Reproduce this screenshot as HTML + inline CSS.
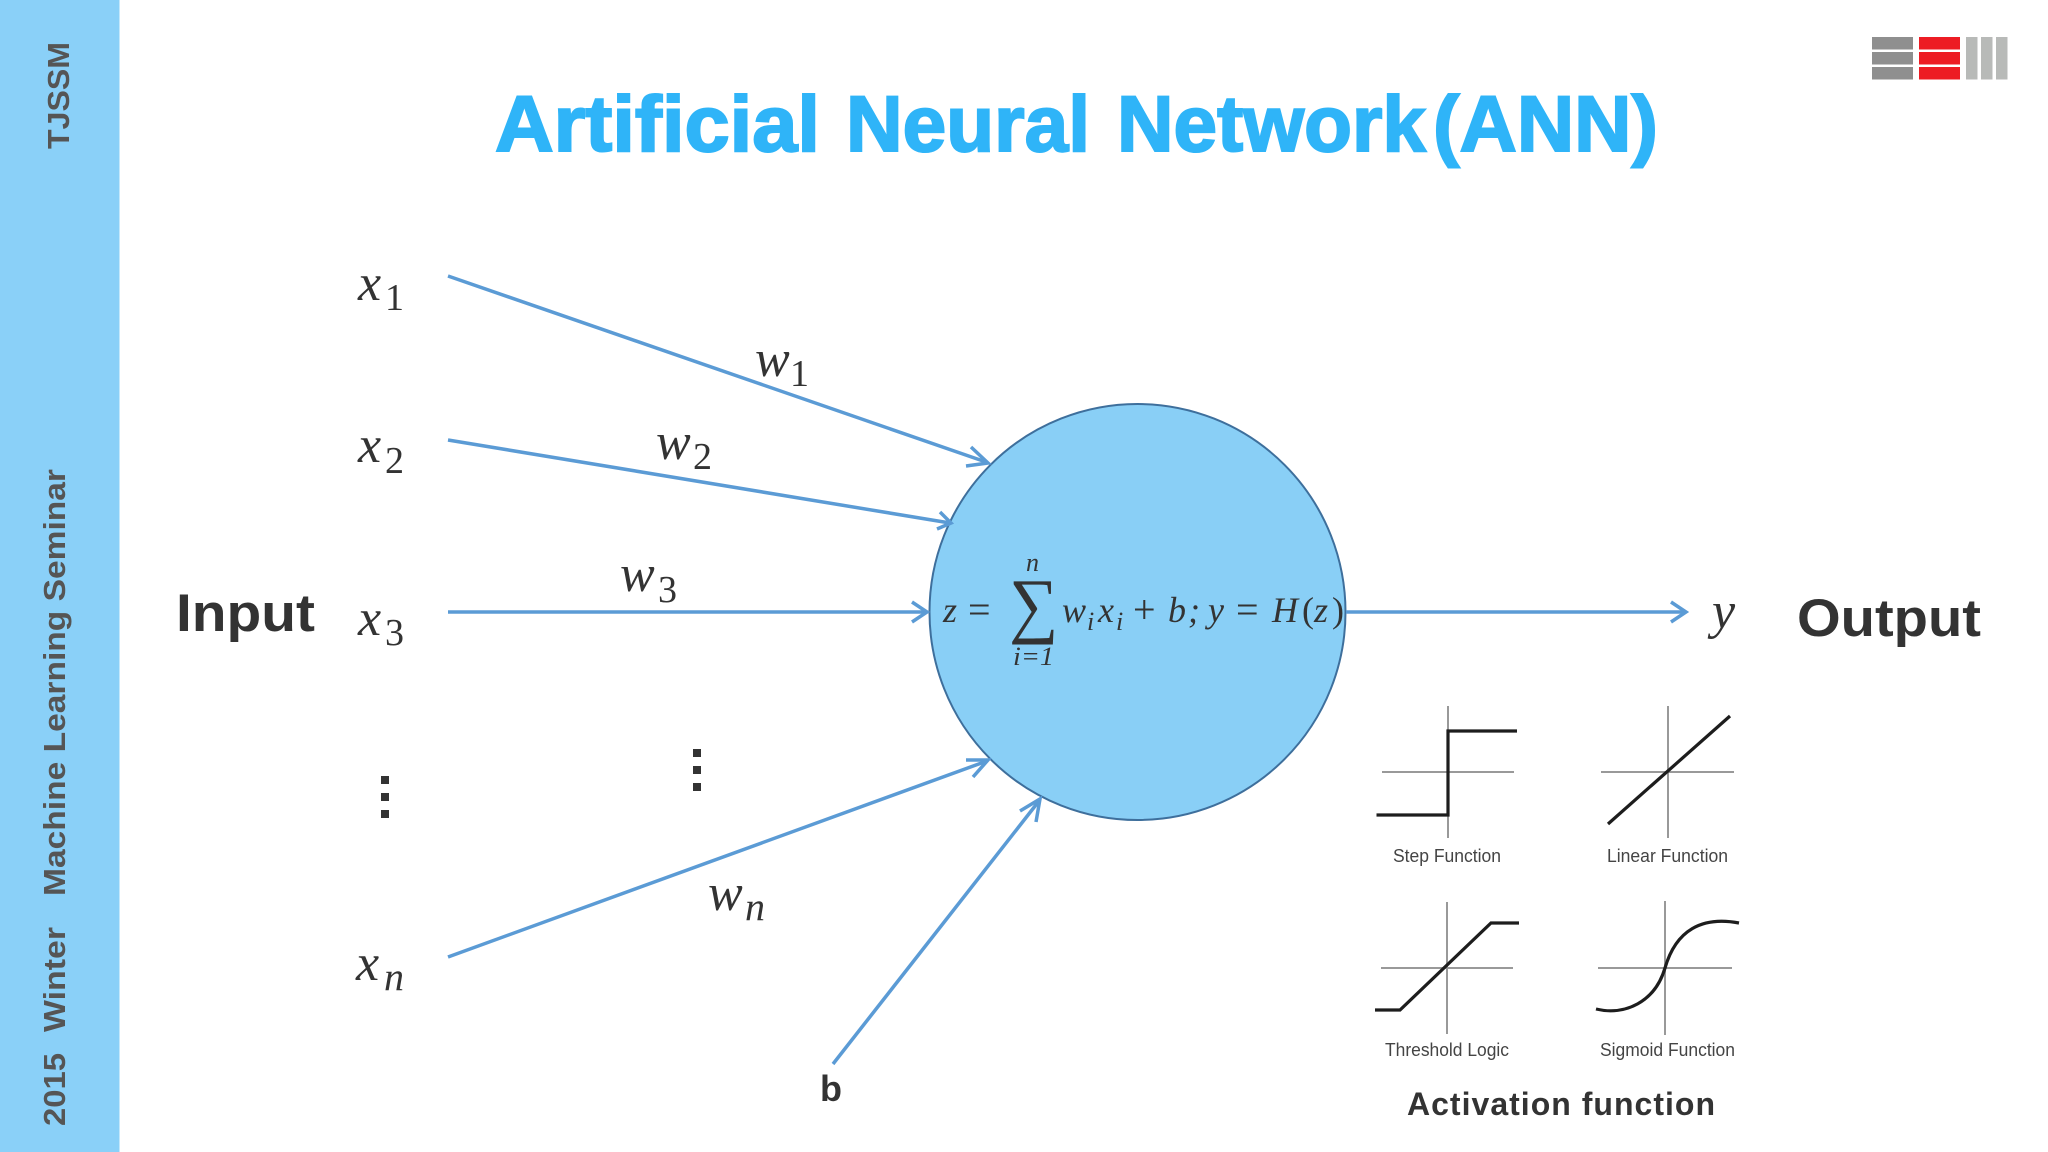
<!DOCTYPE html>
<html><head><meta charset="utf-8"><style>
html,body{margin:0;padding:0;background:#fff;width:2048px;height:1152px;overflow:hidden}
svg{display:block}
.s{font-family:"Liberation Sans",sans-serif}
.m{font-family:"Liberation Serif",serif;font-style:italic;fill:#333}
.r{font-family:"Liberation Serif",serif;fill:#333}
.b{font-family:"Liberation Sans",sans-serif;font-weight:bold;fill:#333}
.side{font-family:"Liberation Sans",sans-serif;font-weight:bold;fill:#555;font-size:31px}
.lab{font-family:"Liberation Sans",sans-serif;fill:#444;font-size:18.5px}
</style></head><body>
<svg width="2048" height="1152" viewBox="0 0 2048 1152" xmlns="http://www.w3.org/2000/svg">
<rect width="2048" height="1152" fill="#fff"/>
<rect width="119.5" height="1152" fill="#8ad0f8"/>
<text class="side" transform="translate(69,149) rotate(-90)" textLength="107" lengthAdjust="spacingAndGlyphs">TJSSM</text>
<text class="side" transform="translate(65,1126) rotate(-90)" textLength="73" lengthAdjust="spacingAndGlyphs">2015</text>
<text class="side" transform="translate(65,1032) rotate(-90)" textLength="105" lengthAdjust="spacingAndGlyphs">Winter</text>
<text class="side" transform="translate(65,896) rotate(-90)" textLength="427" lengthAdjust="spacingAndGlyphs">Machine Learning Seminar</text>

<g class="s" font-size="79" font-weight="bold" fill="#2fb4f8" stroke="#2fb4f8" stroke-width="2">
<text x="495" y="151" textLength="325" lengthAdjust="spacingAndGlyphs">Artificial</text>
<text x="846" y="151" textLength="244" lengthAdjust="spacingAndGlyphs">Neural</text>
<text x="1117" y="151" textLength="309" lengthAdjust="spacingAndGlyphs">Network</text>
<text x="1433" y="151" textLength="225" lengthAdjust="spacingAndGlyphs">(ANN)</text>
</g>

<g>
<rect x="1872" y="37" width="41" height="12.5" fill="#8f8f8f"/><rect x="1872" y="52" width="41" height="12.5" fill="#8f8f8f"/><rect x="1872" y="67" width="41" height="12.5" fill="#8f8f8f"/>
<rect x="1919" y="37" width="41" height="12.5" fill="#ed1c24"/><rect x="1919" y="52" width="41" height="12.5" fill="#ed1c24"/><rect x="1919" y="67" width="41" height="12.5" fill="#ed1c24"/>
<rect x="1966" y="37" width="11.5" height="42.5" fill="#b8bab8"/><rect x="1981" y="37" width="11.5" height="42.5" fill="#b8bab8"/><rect x="1996" y="37" width="11.5" height="42.5" fill="#b8bab8"/>
</g>

<circle cx="1137.5" cy="612" r="208" fill="#89cff6" stroke="#3e6f9c" stroke-width="2"/>

<g fill="none" stroke="#5b9bd5" stroke-width="3.5">
<path d="M448 276L986 462"/><path d="M971 447L988 463L966 466"/>
<path d="M448 440L950 523"/><path d="M940 512L951 523L937 529"/>
<path d="M448 612L926 612"/><path d="M912 602L927 612L912 622"/>
<path d="M448 957L987 761"/><path d="M966 760L988 760L973 777"/>
<path d="M833 1064L1039 801"/><path d="M1020 811L1040 799L1036 822"/>
<path d="M1346 612L1684 612"/><path d="M1671 602L1686 612L1671 622"/>
</g>

<text class="b" x="176" y="631" font-size="53" textLength="139" lengthAdjust="spacingAndGlyphs">Input</text>
<text class="b" x="1797" y="636" font-size="53" textLength="184" lengthAdjust="spacingAndGlyphs">Output</text>
<text class="b" x="820" y="1101" font-size="36">b</text>

<text class="m" font-size="52" x="358" y="300">x</text><text class="r" font-size="38" x="385" y="310">1</text>
<text class="m" font-size="52" x="358" y="462">x</text><text class="r" font-size="38" x="385" y="473">2</text>
<text class="m" font-size="52" x="358" y="635">x</text><text class="r" font-size="38" x="385" y="645">3</text>
<text class="m" font-size="52" x="356" y="980">x</text><text class="m" font-size="40" x="384" y="990">n</text>

<text class="m" font-size="52" x="755" y="376">w</text><text class="r" font-size="38" x="790" y="386">1</text>
<text class="m" font-size="52" x="656" y="459">w</text><text class="r" font-size="38" x="693" y="469">2</text>
<text class="m" font-size="52" x="620" y="591">w</text><text class="r" font-size="38" x="658" y="602">3</text>
<text class="m" font-size="52" x="708" y="910">w</text><text class="m" font-size="40" x="745" y="920">n</text>

<text class="m" font-size="52" x="1712" y="628">y</text>

<g fill="#333">
<rect x="381" y="776" width="8" height="8"/><rect x="381" y="793" width="8" height="8"/><rect x="381" y="810" width="8" height="8"/>
<rect x="693" y="749" width="8" height="8"/><rect x="693" y="766" width="8" height="8"/><rect x="693" y="783" width="8" height="8"/>
</g>

<g font-size="36">
<text class="m" x="943" y="622">z</text>
<text class="r" x="968" y="623" font-size="40">=</text>
<text class="r" transform="translate(1009,629) scale(0.95,1)" font-size="72.7">∑</text>
<text class="m" x="1026" y="571" font-size="26">n</text>
<text class="m" x="1013" y="665" font-size="26" textLength="41" lengthAdjust="spacingAndGlyphs">i=1</text>
<text class="m" x="1062" y="622">w</text><text class="m" x="1087" y="630" font-size="26">i</text>
<text class="m" x="1098" y="622">x</text><text class="m" x="1116" y="630" font-size="26">i</text>
<text class="r" x="1133" y="623" font-size="40">+</text>
<text class="m" x="1168" y="622">b</text>
<text class="m" x="1188" y="622">;</text>
<text class="m" x="1208" y="622">y</text>
<text class="r" x="1236" y="623" font-size="40">=</text>
<text class="m" x="1272" y="622">H</text>
<text class="r" x="1302" y="622">(</text>
<text class="m" x="1314" y="622">z</text>
<text class="r" x="1332" y="622">)</text>
</g>

<g stroke="#999" stroke-width="2" fill="none">
<path d="M1448 706V838M1382 772H1514"/>
<path d="M1668 706V838M1601 772H1734"/>
<path d="M1447 902V1034M1381 968H1513"/>
<path d="M1665 901V1035M1598 968H1732"/>
</g>
<g stroke="#1d1d1d" stroke-width="3.2" fill="none">
<path d="M1376.5 815H1448V731H1517"/>
<path d="M1608 824L1730 716"/>
<path d="M1375 1010H1400L1491 923H1519"/>
<path d="M1596 1009C1625 1016 1655 1002 1665 968C1676 930 1702 916 1739 923"/>
</g>
<text class="lab" x="1393" y="862" textLength="108" lengthAdjust="spacingAndGlyphs">Step Function</text>
<text class="lab" x="1607" y="862" textLength="121" lengthAdjust="spacingAndGlyphs">Linear Function</text>
<text class="lab" x="1385" y="1056" textLength="124" lengthAdjust="spacingAndGlyphs">Threshold Logic</text>
<text class="lab" x="1600" y="1056" textLength="135" lengthAdjust="spacingAndGlyphs">Sigmoid Function</text>
<text class="b" x="1407" y="1115" font-size="32" textLength="308" lengthAdjust="spacing">Activation function</text>
</svg>
</body></html>
